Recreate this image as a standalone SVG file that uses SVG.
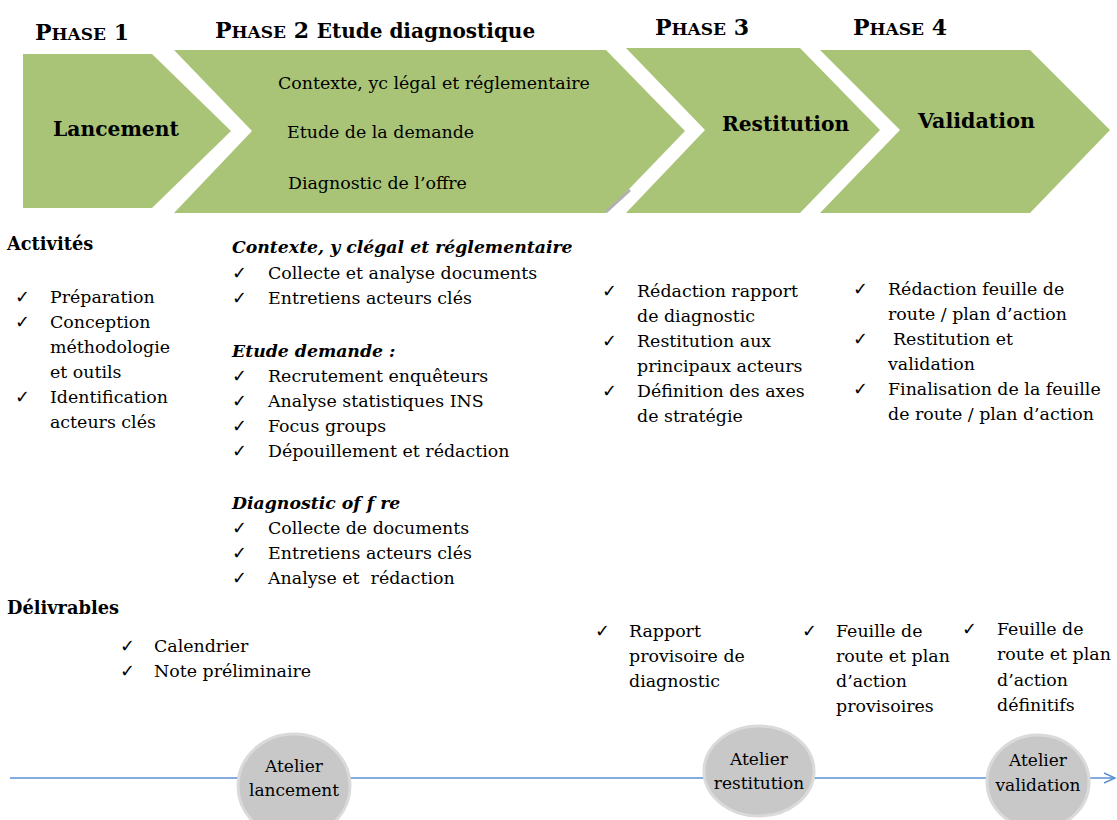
<svg xmlns="http://www.w3.org/2000/svg" width="1117" height="820" viewBox="0 0 1117 820">
<style>
text{font-family:"DejaVu Serif","Liberation Serif",serif;fill:#000}
.chev{fill:#a9c476}
.t{font-size:17.4px}
.b{font-weight:bold}
.h{font-size:17.8px;font-weight:bold}
.hi{font-size:17.3px;font-weight:bold;font-style:italic}
.ck{font-size:18px;font-family:"DejaVu Sans",sans-serif}
.ph{font-weight:bold;font-size:22px}
.sc{font-size:17px}
.atel{fill:#c8c8c8;stroke:#dadada;stroke-width:3}
.ctr{text-anchor:middle;font-size:17px}
</style>
<defs>
<marker id="arr" markerWidth="14" markerHeight="12" refX="12" refY="6" orient="auto" markerUnits="userSpaceOnUse">
<path d="M1,1 L12,6 L1,11" fill="none" stroke="#5b8fd0" stroke-width="1.4"/>
</marker>
</defs>
<rect width="1117" height="820" fill="#fff"/>

<g id="phase-titles">
<text class="ph" x="35" y="40">P<tspan class="sc">HASE</tspan> 1</text>
<text class="ph" x="215" y="38">P<tspan class="sc">HASE</tspan> 2 <tspan font-size="20"> Etude diagnostique</tspan></text>
<text class="ph" x="655" y="35">P<tspan class="sc">HASE</tspan> 3</text>
<text class="ph" x="853" y="35">P<tspan class="sc">HASE</tspan> 4</text>
</g>

<g id="phase1">
<polygon class="chev" points="23,54 152,54 231,131 152,208 23,208"/>
<text class="b" x="53" y="136" font-size="20.3">Lancement</text>
</g>
<g id="phase2">
<polygon class="chev" points="174,50 606,50 685,131 606,213 174,213 252,131"/>
<line x1="606" y1="212" x2="630" y2="190" stroke="#b0b0b0" stroke-width="3"/>
<text class="t" x="278" y="89">Contexte, yc légal et réglementaire</text>
<text class="t" x="287" y="138">Etude de la demande</text>
<text class="t" x="288" y="189">Diagnostic de l’offre</text>
</g>
<g id="phase3">
<polygon class="chev" points="626,48 800,48 880,130 800,213 626,213 705,130"/>
<text class="b" x="722" y="131" font-size="20.2">Restitution</text>
</g>
<g id="phase4">
<polygon class="chev" points="820,50 1030,50 1110,130 1030,213 820,213 900,130"/>
<text class="b" x="918" y="128" font-size="20.6">Validation</text>
</g>

<g id="activites">
<text class="h" x="7" y="250">Activités</text>
<text class="ck" x="15" y="303">✓</text><text class="t" x="50" y="303">Préparation</text>
<text class="ck" x="15" y="328">✓</text><text class="t" x="50" y="328">Conception</text>
<text class="t" x="50" y="353">méthodologie</text>
<text class="t" x="50" y="378">et outils</text>
<text class="ck" x="15" y="403">✓</text><text class="t" x="50" y="403">Identification</text>
<text class="t" x="50" y="428">acteurs clés</text>
</g>

<g id="activites-phase2">
<text class="hi" x="232" y="253">Contexte, y clégal et réglementaire</text>
<text class="ck" x="232" y="279">✓</text><text class="t" x="268" y="279">Collecte et analyse documents</text>
<text class="ck" x="232" y="304">✓</text><text class="t" x="268" y="304">Entretiens acteurs clés</text>
<text class="hi" x="232" y="357">Etude demande :</text>
<text class="ck" x="232" y="382">✓</text><text class="t" x="268" y="382">Recrutement enquêteurs</text>
<text class="ck" x="232" y="407">✓</text><text class="t" x="268" y="407">Analyse statistiques INS</text>
<text class="ck" x="232" y="432">✓</text><text class="t" x="268" y="432">Focus groups</text>
<text class="ck" x="232" y="457">✓</text><text class="t" x="268" y="457">Dépouillement et rédaction</text>
<text class="hi" x="232" y="509">Diagnostic of f re</text>
<text class="ck" x="232" y="534">✓</text><text class="t" x="268" y="534">Collecte de documents</text>
<text class="ck" x="232" y="559">✓</text><text class="t" x="268" y="559">Entretiens acteurs clés</text>
<text class="ck" x="232" y="584">✓</text><text class="t" x="268" y="584" xml:space="preserve">Analyse et  rédaction</text>
</g>

<g id="activites-phase3">
<text class="ck" x="602" y="297">✓</text><text class="t" x="637" y="297">Rédaction rapport</text>
<text class="t" x="637" y="322">de diagnostic</text>
<text class="ck" x="602" y="347">✓</text><text class="t" x="637" y="347">Restitution aux</text>
<text class="t" x="637" y="372">principaux acteurs</text>
<text class="ck" x="602" y="397">✓</text><text class="t" x="637" y="397">Définition des axes</text>
<text class="t" x="637" y="422">de stratégie</text>
</g>

<g id="activites-phase4">
<text class="ck" x="853" y="295">✓</text><text class="t" x="888" y="295">Rédaction feuille de</text>
<text class="t" x="888" y="320">route / plan d’action</text>
<text class="ck" x="853" y="345">✓</text><text class="t" x="893" y="345">Restitution et</text>
<text class="t" x="888" y="370">validation</text>
<text class="ck" x="853" y="395">✓</text><text class="t" x="888" y="395">Finalisation de la feuille</text>
<text class="t" x="888" y="420">de route / plan d’action</text>
</g>

<g id="livrables">
<text class="h" x="7" y="614">Délivrables</text>
<text class="ck" x="120" y="652">✓</text><text class="t" x="154" y="652">Calendrier</text>
<text class="ck" x="120" y="677">✓</text><text class="t" x="154" y="677">Note préliminaire</text>
</g>
<g id="livrables-phase3">
<text class="ck" x="595" y="637">✓</text><text class="t" x="629" y="637">Rapport</text>
<text class="t" x="629" y="662">provisoire de</text>
<text class="t" x="629" y="687">diagnostic</text>
</g>
<g id="livrables-phase4a">
<text class="ck" x="802" y="637">✓</text><text class="t" x="836" y="637">Feuille de</text>
<text class="t" x="836" y="662">route et plan</text>
<text class="t" x="836" y="687">d’action</text>
<text class="t" x="836" y="712">provisoires</text>
</g>
<g id="livrables-phase4b">
<text class="ck" x="962" y="635">✓</text><text class="t" x="997" y="635">Feuille de</text>
<text class="t" x="997" y="660">route et plan</text>
<text class="t" x="997" y="686">d’action</text>
<text class="t" x="997" y="711">définitifs</text>
</g>

<g id="connectors">
<line x1="10" y1="778" x2="1115" y2="778" stroke="#5b8fd0" stroke-width="1.4" marker-end="url(#arr)"/>
</g>

<g id="atelier-lancement">
<ellipse class="atel" cx="294" cy="786" rx="56" ry="52"/>
<text class="ctr" x="294" y="772">Atelier</text>
<text class="ctr" x="294" y="796">lancement</text>
</g>
<g id="atelier-restitution">
<ellipse class="atel" cx="759" cy="771" rx="55" ry="45"/>
<text class="ctr" x="759" y="765">Atelier</text>
<text class="ctr" x="759" y="789">restitution</text>
</g>
<g id="atelier-validation">
<ellipse class="atel" cx="1038" cy="782" rx="51" ry="47"/>
<text class="ctr" x="1038" y="766">Atelier</text>
<text class="ctr" x="1038" y="791">validation</text>
</g>
</svg>
